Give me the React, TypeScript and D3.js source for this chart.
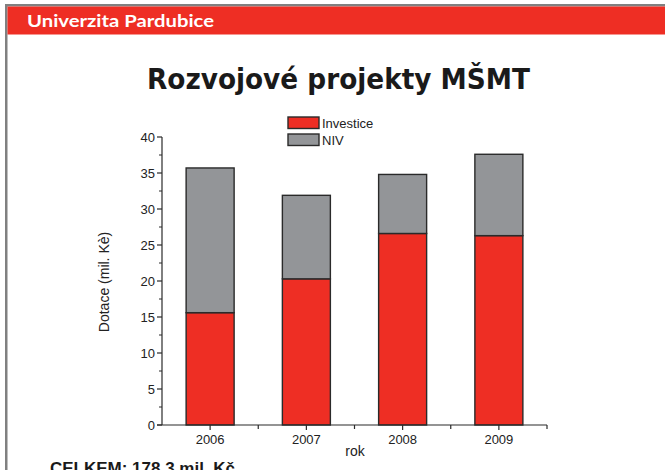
import React from "react";
import * as d3 from "d3";

const years = ["2006", "2007", "2008", "2009"];
const investice = [15.6, 20.3, 26.6, 26.3];
const niv = [20.1, 11.6, 8.2, 11.3];
const yTicks = [0, 5, 10, 15, 20, 25, 30, 35, 40];
const seriesNames = ["Investice", "NIV"];
const seriesColors = ["#ee2e24", "#939598"];

export default function App() {
  const W = 665, H = 470;
  const x0 = 162, x1 = 547;
  const y = d3.scaleLinear().domain([0, 40]).range([425, 137]);
  const x = d3.scaleBand().domain(years).range([x0, x1]).paddingInner(0).paddingOuter(0);
  const bw = 48;
  const data = years.map((yr, i) => ({ yr, investice: investice[i], niv: niv[i] }));
  const stack = d3.stack<any>().keys(["investice", "niv"])(data as any);
  const minor = d3.range(0, 40.01, 2.5).filter((v) => v % 5 !== 0);
  const font = "'Liberation Sans', Arial, sans-serif";
  const boundaries = years.map((_, i) => x0 + (i + 1) * x.bandwidth());

  return (
    <div style={{ position: "fixed", left: 0, top: 0 }}>
      <svg width={W} height={H} style={{ display: "block", background: "#fff" }}>
        {/* frame */}
        <rect x={5} y={4} width={W - 5} height={2.5} fill="#808080" />
        <rect x={5} y={4} width={2.5} height={H - 4} fill="#808080" />
        <rect x={7.5} y={6.5} width={W - 7.5} height={28} fill="#ee2e24" />
        <text x={27} y={26.5} fill="#fff" fontFamily="Lato, 'Open Sans', sans-serif" fontWeight="bold" fontSize={17} textLength={187} lengthAdjust="spacingAndGlyphs">Univerzita Pardubice</text>
        {/* title */}
        <text x={147} y={89} fill="#1a1a1a" fontFamily="'DejaVu Sans', Verdana, sans-serif" fontWeight="bold" fontSize={28.5} textLength={383} lengthAdjust="spacingAndGlyphs">Rozvojové projekty MŠMT</text>

        {/* bars */}
        {stack.map((s, si) =>
          s.map((d: any, i: number) => (
            <rect key={si + "-" + i}
              x={(x(years[i]) as number) + x.bandwidth() / 2 - bw / 2}
              y={y(d[1])}
              width={bw}
              height={y(d[0]) - y(d[1])}
              fill={seriesColors[si]}
              stroke="#2a2a2a"
              strokeWidth={1.4} />
          ))
        )}

        {/* y axis */}
        <line x1={x0} x2={x0} y1={y(0)} y2={y(40)} stroke="#2a2a2a" strokeWidth={1.2} />
        {yTicks.map((t) => (
          <g key={t}>
            <line x1={x0 - 5} x2={x0} y1={y(t)} y2={y(t)} stroke="#2a2a2a" strokeWidth={1.2} />
            <text x={x0 - 7} y={y(t) + 4.5} textAnchor="end" fontFamily={font} fontSize={13} fill="#222">{t}</text>
          </g>
        ))}
        {minor.map((t) => (
          <line key={"m" + t} x1={x0 - 3} x2={x0} y1={y(t)} y2={y(t)} stroke="#2a2a2a" strokeWidth={1} />
        ))}
        <text transform={`translate(109,${y(20) + 1}) rotate(-90)`} textAnchor="middle" fontFamily={font} fontSize={14} fill="#222">Dotace (mil. Kè)</text>

        {/* x axis */}
        <line x1={x0 - 5} x2={x1} y1={y(0)} y2={y(0)} stroke="#2a2a2a" strokeWidth={1.2} />
        {years.map((yr) => (
          <g key={yr}>
            <line x1={(x(yr) as number) + x.bandwidth() / 2} x2={(x(yr) as number) + x.bandwidth() / 2} y1={y(0)} y2={y(0) + 5} stroke="#2a2a2a" strokeWidth={1.2} />
            <text x={(x(yr) as number) + x.bandwidth() / 2} y={y(0) + 19} textAnchor="middle" fontFamily={font} fontSize={13} fill="#222">{yr}</text>
          </g>
        ))}
        {boundaries.map((b, i) => (
          <line key={"b" + i} x1={b} x2={b} y1={y(0)} y2={y(0) + 4} stroke="#2a2a2a" strokeWidth={1.2} />
        ))}
        <text x={355} y={456} textAnchor="middle" fontFamily={font} fontSize={14} fill="#222">rok</text>

        {/* legend */}
        {seriesNames.map((n, i) => (
          <g key={n}>
            <rect x={288} y={117 + i * 17} width={31} height={11.5} fill={seriesColors[i]} stroke="#2a2a2a" strokeWidth={1.4} />
            <text x={322} y={127.5 + i * 17} fontFamily={font} fontSize={13} fill="#222">{n}</text>
          </g>
        ))}

        <text x={50} y={474} fontFamily={font} fontWeight="bold" fontSize={17} fill="#1a1a1a" textLength={185} lengthAdjust="spacingAndGlyphs">CELKEM: 178.3 mil. Kč</text>
      </svg>
    </div>
  );
}
